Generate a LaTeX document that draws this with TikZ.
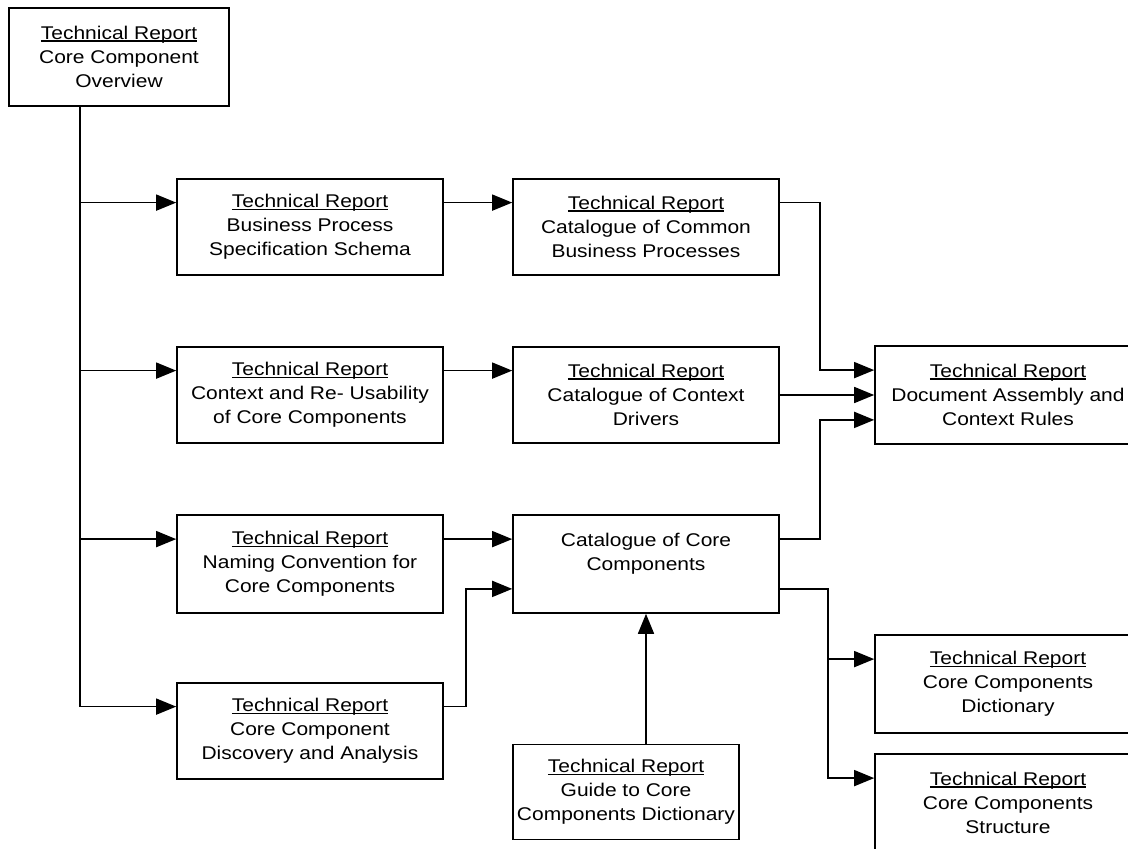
\documentclass[tikz,border=0pt]{standalone}
\usepackage{fontspec}
\setmainfont{Liberation Sans}[FakeStretch=1.14]
\usetikzlibrary{arrows.meta,calc}

\newsavebox{\trbox}
\newcommand{\trline}[1]{\sbox{\trbox}{#1}\rlap{\rule[-2.2pt]{\wd\trbox}{1.3pt}}\usebox{\trbox}}
\newcommand{\techrep}{\trline{Technical Report}\\}

\begin{document}
\begin{tikzpicture}[x=1pt,y=-1pt,
    report/.style={draw,line width=1.6pt,minimum width=266pt,minimum height=96pt,
      align=center,inner sep=0pt,font=\fontsize{18.4pt}{24pt}\selectfont},
    link/.style={line width=1.6pt,-{Triangle[length=20pt,width=16pt]}}]
    \useasboundingbox (0,0) rectangle (1128,849);
    \clip (0,0) rectangle (1128,849);

    % Berichte
    \node[report,minimum width=220pt,minimum height=98pt] (ovw) at (119,57) {\techrep Core Component\\Overview};
    \node[report] (bpss) at (310,227) {\techrep Business Process\\Specification Schema};
    \node[report] (ctx) at (310,395) {\techrep Context and Re- Usability\\of Core Components};
    \node[report,minimum height=98pt] (nam) at (310,564) {\techrep Naming Convention for\\Core Components};
    \node[report] (disc) at (310,731) {\techrep Core Component\\Discovery and Analysis};

    \node[report] (cbp) at (646,227) {\techrep Catalogue of Common\\Business Processes};
    \node[report] (ccd) at (646,395) {\techrep Catalogue of Context\\Drivers};
    \node[report,minimum height=98pt] (ccc) at (646,564) {Catalogue of Core\\Components\\\mbox{}};
    \node[report,minimum width=226pt,minimum height=95pt] (guide) at (626,792) {\techrep Guide to Core\\Components Dictionary};

    \node[report,minimum height=98pt] (dac) at (1008,395) {\techrep Document Assembly and\\Context Rules};
    \node[report,minimum height=98pt] (dict) at (1008,684) {\techrep Core Components\\Dictionary};
    \node[report,minimum height=98pt] (struct) at (1008,803) {\techrep Core Components\\Structure};

    % Stamm
    \coordinate (trunk) at ($(ovw.south west)+(72,0)$);
    \draw[link] (trunk) |- ($(bpss.north west)!.25!(bpss.south west)$);
    \draw[link] (trunk) |- ($(ctx.north west)!.25!(ctx.south west)$);
    \draw[link] (trunk) |- ($(nam.north west)!.25!(nam.south west)$);
    \draw[link] (trunk) |- ($(disc.north west)!.25!(disc.south west)$);

    % Kataloge
    \draw[link] ($(bpss.north east)!.25!(bpss.south east)$) -- ($(cbp.north west)!.25!(cbp.south west)$);
    \draw[link] ($(ctx.north east)!.25!(ctx.south east)$) -- ($(ccd.north west)!.25!(ccd.south west)$);
    \draw[link] ($(nam.north east)!.25!(nam.south east)$) -- ($(ccc.north west)!.25!(ccc.south west)$);
    \draw[link] ($(disc.north east)!.25!(disc.south east)$) -- ++(22,0) |- ($(ccc.north west)!.75!(ccc.south west)$);
    \draw[link] (ccc.south |- guide.north) -- (ccc.south);

    % Regeln
    \draw[link] ($(cbp.north east)!.25!(cbp.south east)$) -- ++(40,0) |- ($(dac.north west)!.25!(dac.south west)$);
    \draw[link] (ccd.east) -- (dac.west);
    \draw[link] ($(ccc.north east)!.25!(ccc.south east)$) -- ++(40,0) |- ($(dac.north west)!.75!(dac.south west)$);

    % Woerterbuch
    \draw[link] ($(ccc.north east)!.75!(ccc.south east)$) -- ++(48,0) |- ($(dict.north west)!.25!(dict.south west)$);
    \draw[link] ($(ccc.north east)!.75!(ccc.south east)$) -- ++(48,0) |- ($(struct.north west)!.25!(struct.south west)$);
\end{tikzpicture}
\end{document}
